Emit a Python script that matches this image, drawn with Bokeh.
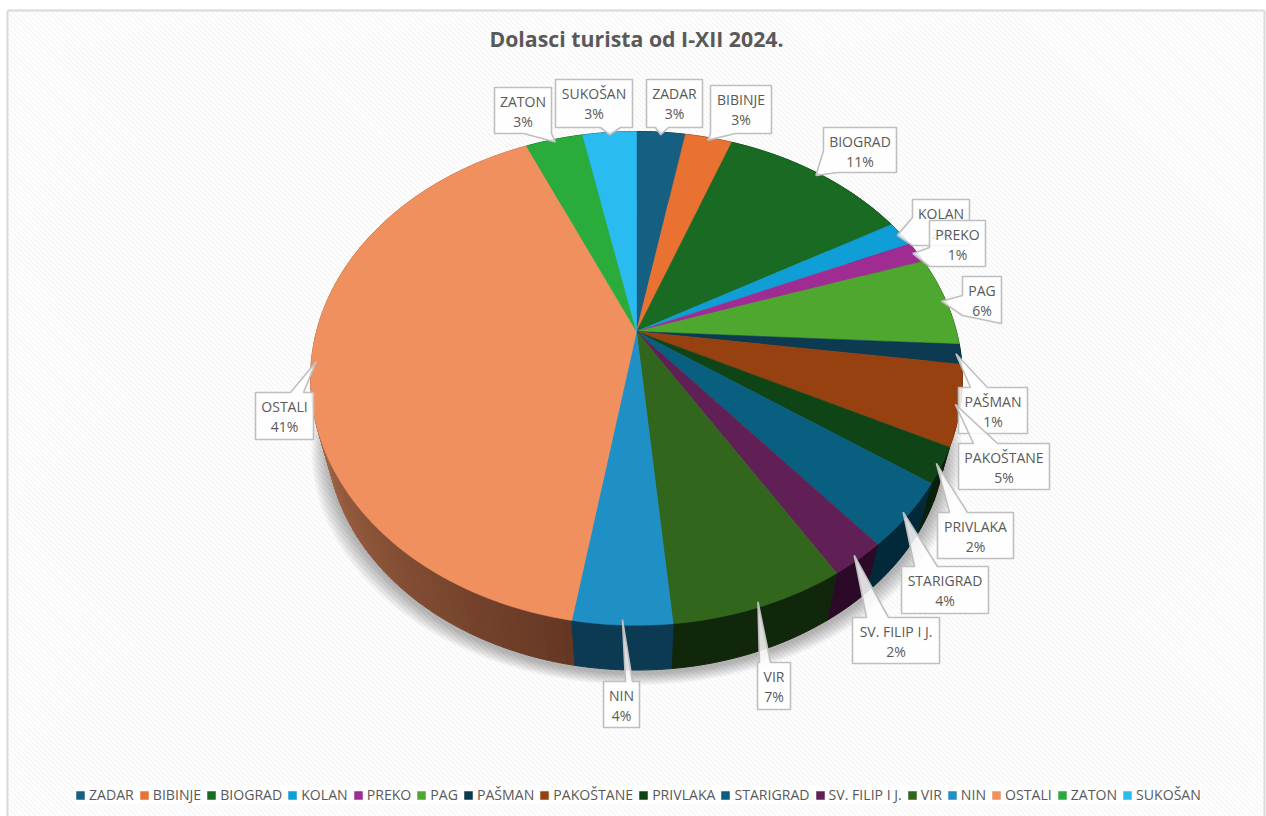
import math
from bokeh.plotting import figure
from bokeh.models import Range1d, Legend, LegendItem
from bokeh.core.properties import value
from bokeh.embed import file_html
from bokeh.resources import INLINE

# ---- data -----------------------------------------------------------------
categories = ["ZADAR", "BIBINJE", "BIOGRAD", "KOLAN", "PREKO", "PAG", "PAŠMAN", "PAKOŠTANE",
              "PRIVLAKA", "STARIGRAD", "SV. FILIP I J.", "VIR", "NIN", "OSTALI", "ZATON", "SUKOŠAN"]
shares = [2.9, 2.8, 11.1, 1.7, 1.4, 5.9, 1.3, 5.2, 2.3, 4.2, 2.35, 7.3, 4.1, 40.7, 3.4, 3.2]
pct_labels = ["3%", "3%", "11%", "2%", "1%", "6%", "1%", "5%", "2%", "4%", "2%", "7%", "4%", "41%", "3%", "3%"]
title_text = "Dolasci turista od I-XII 2024."

# ---- styles ---------------------------------------------------------------
top_colors = ["#156082", "#E97132", "#196B24", "#0F9ED5", "#A02B93", "#4EA72E", "#0C3A50", "#974010",
              "#0F4417", "#095F80", "#602055", "#31661C", "#1F90C6", "#F1905F", "#2AAC3C", "#2ABBF0"]
wall_colors = ["#0A3041", "#74381A", "#0C3512", "#074F6A", "#501549", "#275316", "#062029", "#4B2008",
               "#08200B", "#02293A", "#2B0A28", "#11270B", "#0B3A52", "#653723", "#155A1E", "#155E78"]

# ---- layout: box left, top, right, bottom; pointer base (two points) --------
boxes = [(646, 79, 702, 127), (710, 85, 771, 133), (823, 127, 896, 172), (912, 199, 969, 245),
         (929, 220, 985, 266), (962, 276, 1001, 323), (958, 387, 1027, 433), (958, 443, 1049, 489),
         (937, 512, 1013, 558), (901, 566, 988, 613), (852, 617, 939, 663), (757, 662, 790, 709),
         (603, 681, 639, 727), (255, 392, 313, 439), (494, 87, 551, 133), (555, 79, 632, 127)]
bases = [((655, 127), (668, 127)), ((710, 133), (735, 133)), ((823, 150), (837, 172)), ((912, 217), (912, 245)),
         ((929, 247), (929, 266)), ((962, 295), (962, 315)), ((970, 387), (987, 387)), ((973, 443), (997, 443)),
         ((949, 512), (967, 512)), ((914, 566), (937, 566)), ((866, 617), (888, 617)), ((759, 662), (770, 662)),
         ((625, 681), (632, 681)), ((290, 392), (303, 392)), ((523, 133), (551, 133)), ((600, 127), (620, 127))]

CX, CY, R, S, K = 636.0, 331.0, 320.0, 238.0, 0.19
FONT = "Open Sans"
TEXT = "#595959"


def top_pt(theta, r=1.0):
    X, Y = r * math.sin(theta), r * math.cos(theta)
    w = 1 + K * Y
    return CX + R * X / w, CY - S * Y / w


def low_pt(theta, grow=1.0, dy=0.0):
    x, y = top_pt(theta)
    return CX + 0.95 * grow * (x - CX), 0.95 * y + 76 + dy + (grow - 1) * 240


def arc(t0, t1, fn):
    n = max(2, int(abs(t1 - t0) / math.radians(1.5)))
    return [fn(t0 + (t1 - t0) * i / n) for i in range(n + 1)]


def hexmix(a, b, t):
    ca = [int(a[i:i + 2], 16) for i in (1, 3, 5)]
    cb = [int(b[i:i + 2], 16) for i in (1, 3, 5)]
    return "#%02x%02x%02x" % tuple(round(p + (q - p) * t) for p, q in zip(ca, cb))


p = figure(width=1266, height=816, output_backend="svg", toolbar_location=None,
           x_axis_type=None, y_axis_type=None, x_range=Range1d(0, 1266), y_range=Range1d(816, 0),
           min_border=0, outline_line_color=None, background_fill_color="white", border_fill_color="white")
p.grid.visible = False

# textured chart area
hx0, hy0, hx1, hy1 = [], [], [], []
for c in range(-800, 1266, 5):
    hx0.append(max(c, 7)); hy0.append(10 + max(7 - c, 0)); hx1.append(min(c + 806, 1264)); hy1.append(816 - max(c + 806 - 1264, 0))
p.segment(hx0, hy0, hx1, hy1, line_color="#f6f6f6", line_width=1.6)
p.line([7, 7], [816, 10], line_color="#d9d9d9", line_width=2)
p.line([7, 1264], [10, 10], line_color="#d9d9d9", line_width=2)
p.line([1264, 1264], [10, 816], line_color="#d9d9d9", line_width=2)

# slice angles from the shares
total = sum(shares)
bounds = [0.0]
for v in shares:
    bounds.append(bounds[-1] + v / total * 2 * math.pi)

# soft shadow below the rim
outline_t = [2 * math.pi * i / 240 for i in range(241)]
for g in (1.05, 1.045, 1.04, 1.035, 1.03, 1.025, 1.02, 1.015, 1.01, 1.005):
    pts = [low_pt(t, g, 3) for t in outline_t]
    p.patch([q[0] for q in pts], [q[1] for q in pts], fill_color="black", fill_alpha=0.03, line_color=None)

# side wall, back to front
order = sorted(range(len(shares)), key=lambda i: -abs((bounds[i] + bounds[i + 1]) / 2 - math.pi))
for i in order:
    t0, t1 = bounds[i], bounds[i + 1]
    steps = 1
    if categories[i] == "OSTALI":
        steps = 100
    for s in range(steps):
        a = t0 + (t1 - t0) * s / steps
        b = t0 + (t1 - t0) * (s + 1) / steps
        col = wall_colors[i]
        if steps > 1:
            tt = min(1.0, max(0.0, (math.degrees(a) - 189) / 76))
            col = hexmix("#653723", "#B0704E", tt)
        pts = arc(a, b, top_pt) + arc(b, a, low_pt)
        p.patch([q[0] for q in pts], [q[1] for q in pts], fill_color=col, line_color=col, line_width=1.0)

# top face
items = []
for i, name in enumerate(categories):
    pts = [(CX, CY)] + arc(bounds[i], bounds[i + 1], top_pt)
    r = p.patch([q[0] for q in pts], [q[1] for q in pts], fill_color=top_colors[i], line_color=top_colors[i],
                line_width=0.5)
    items.append(LegendItem(label=name, renderers=[r]))

# callouts
for i, name in enumerate(categories):
    l, t, rr, b = boxes[i]
    tip = top_pt((bounds[i] + bounds[i + 1]) / 2, 0.985)
    b0, b1 = bases[i]
    if b0[1] == b1[1] and b0[1] == t:        # pointer leaves the top edge
        poly = [(l, t), b0, tip, b1, (rr, t), (rr, b), (l, b)]
    elif b0[1] == b1[1]:                     # bottom edge
        poly = [(l, t), (rr, t), (rr, b), b1, tip, b0, (l, b)]
    else:                                    # left edge
        poly = [(l, t), (rr, t), (rr, b), b1, tip, b0]
    p.patch([q[0] for q in poly], [q[1] for q in poly], fill_color="white", fill_alpha=0.85,
            line_color="#bfbfbf", line_width=1.6)
    cx = (l + rr) / 2
    p.text([cx], [t + 14], text=[name], text_font=value(FONT), text_font_size="14px", text_color=TEXT,
           text_align="center", text_baseline="middle")
    p.text([cx], [t + 33.5], text=[pct_labels[i]], text_font=value(FONT), text_font_size="14px", text_color=TEXT,
           text_align="center", text_baseline="middle")

# title
p.text([636], [38], text=[title_text], text_font=value(FONT), text_font_size="21.3px", text_font_style="bold",
       text_color=TEXT, text_align="center", text_baseline="middle")

legend = Legend(items=items, orientation="horizontal", location=(75, 12), label_text_font=FONT,
                label_text_font_size="14.1px", label_text_color=TEXT, glyph_width=10, glyph_height=10,
                label_standoff=4, spacing=5, padding=4, margin=0, border_line_color=None,
                background_fill_color="white", background_fill_alpha=1.0, label_height=14)
p.add_layout(legend, "center")

open("out.html", "w").write(file_html(p, INLINE))
